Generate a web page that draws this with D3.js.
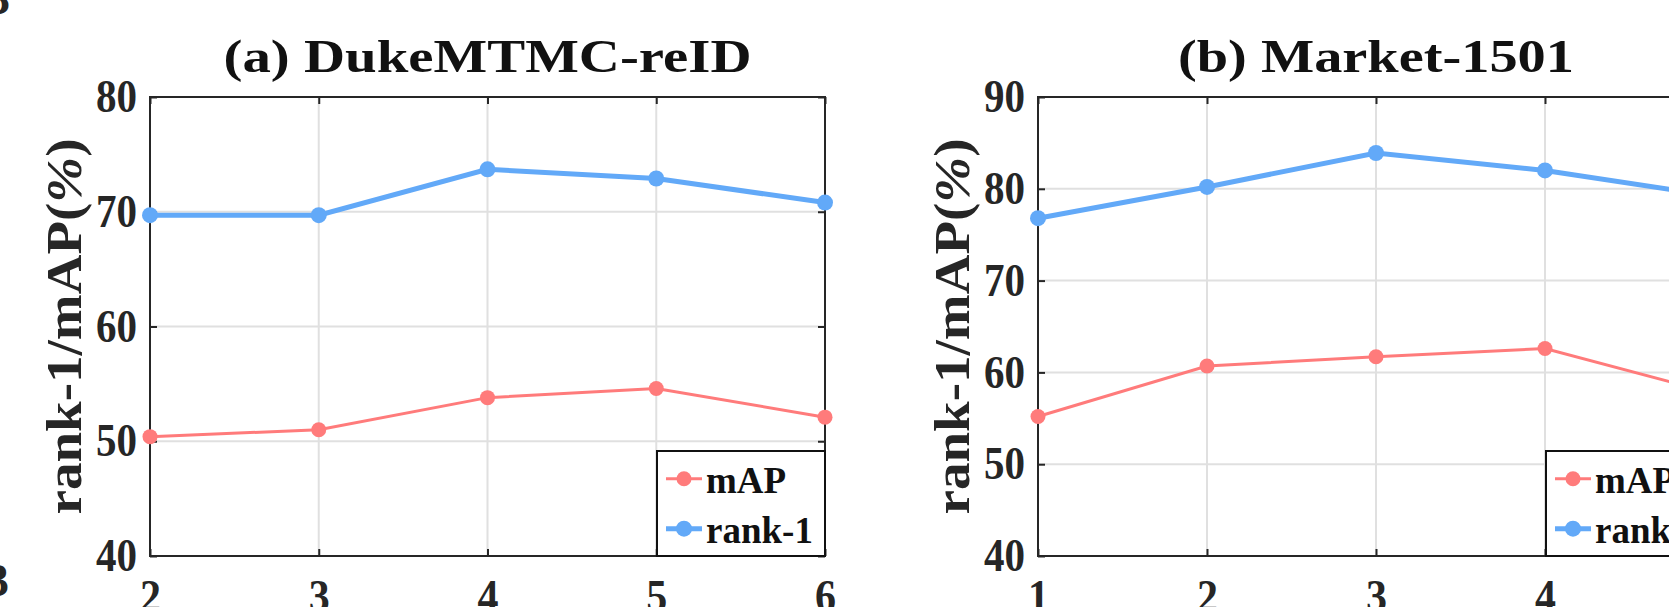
<!DOCTYPE html>
<html>
<head>
<meta charset="utf-8">
<script src="https://cdn.jsdelivr.net/npm/d3@7"></script>
<style>
body { margin: 0; background: #fff; }
svg { display: block; background: #fff; }
text { font-family: "Liberation Serif", "Times New Roman", serif; font-weight: bold; fill: #262626; }
</style>
</head>
<body>
<svg id="chart" width="1669" height="607"></svg>
<script>
// (a) DukeMTMC-reID
var depthsA = [2, 3, 4, 5, 6];
var rank1A = [69.7, 69.7, 73.7, 72.9, 70.8];
var mapA = [50.4, 51.0, 53.8, 54.6, 52.1];
var yTicksA = [40, 50, 60, 70, 80];

// (b) Market-1501
var depthsB = [1, 2, 3, 4, 5];
var rank1B = [76.8, 80.2, 83.9, 82.0, 79.2];
var mapB = [55.2, 60.7, 61.7, 62.6, 57.7];
var yTicksB = [40, 50, 60, 70, 80, 90];

var seriesNames = ["mAP", "rank-1"];
var yLabel = "rank-1/mAP(";

var colMap = "#ff7b7b";
var colRank = "#62a9f8";
var axisCol = "#262626";

var svg = d3.select("#chart");

// stray glyphs cut from neighbouring figures
svg.append("text").attr("x", -13).attr("y", 14).style("font-size", "46px").text("3");
svg.append("text").attr("x", -14).attr("y", 596).style("font-size", "46px").text("3");

function drawPanel(opt) {
	var w = opt.w, h = 459;
	var g = svg.append("g").attr("transform", "translate(" + opt.left + ",97)");

	var x = d3.scaleLinear().domain(opt.xDomain).range([0, w]);
	var y = d3.scaleLinear().domain(opt.yDomain).range([h, 0]);

	// grid
	g.selectAll(".vgrid").data(opt.depths).enter().append("line")
		.attr("x1", d => x(d)).attr("x2", d => x(d))
		.attr("y1", 0).attr("y2", h)
		.style("stroke", "#e0e0e0").style("stroke-width", 2);
	g.selectAll(".hgrid").data(opt.yTicks).enter().append("line")
		.attr("x1", 0).attr("x2", w)
		.attr("y1", d => y(d)).attr("y2", d => y(d))
		.style("stroke", "#e0e0e0").style("stroke-width", 2);

	// axes, ticks pointing inward
	var left = g.append("g").call(d3.axisLeft(y).tickValues(opt.yTicks).tickSize(-7).tickPadding(13));
	left.selectAll("text").style("font-size", "46px").attr("textLength", 41).attr("lengthAdjust", "spacingAndGlyphs").attr("fill", axisCol);
	var bottom = g.append("g").attr("transform", "translate(0," + h + ")")
		.call(d3.axisBottom(x).tickValues(opt.depths).tickFormat(d3.format("d")).tickSize(-7).tickPadding(23));
	bottom.selectAll("text").style("font-size", "46px").attr("textLength", 21).attr("lengthAdjust", "spacingAndGlyphs").attr("fill", axisCol);
	g.append("g").call(d3.axisTop(x).tickValues(opt.depths).tickFormat("").tickSize(-7));
	g.append("g").attr("transform", "translate(" + w + ",0)")
		.call(d3.axisRight(y).tickValues(opt.yTicks).tickFormat("").tickSize(-7));
	g.selectAll(".domain").remove();
	g.selectAll(".tick line").style("stroke", axisCol).style("stroke-width", 2);
	g.append("rect").attr("width", w).attr("height", h)
		.style("fill", "none").style("stroke", axisCol).style("stroke-width", 2);

	// data
	var line = d3.line().x(d => x(d[0])).y(d => y(d[1]));
	var sets = [
		{vals: opt.map, col: colMap, sw: 3, r: 7.5},
		{vals: opt.rank1, col: colRank, sw: 5, r: 8}
	];
	sets.forEach(function(s) {
		var pts = d3.zip(opt.depths, s.vals);
		g.append("path").datum(pts).attr("d", line)
			.style("fill", "none").style("stroke", s.col).style("stroke-width", s.sw);
		g.selectAll(null).data(pts).enter().append("circle")
			.attr("cx", d => x(d[0])).attr("cy", d => y(d[1])).attr("r", s.r)
			.style("fill", s.col);
	});

	// title
	g.append("text").attr("x", w / 2).attr("y", -25)
		.attr("text-anchor", "middle").style("font-size", "46px").style("fill", "#111")
		.attr("textLength", opt.titleLen).attr("lengthAdjust", "spacingAndGlyphs")
		.text(opt.title);

	// y label
	var yl = svg.append("text")
		.attr("transform", "translate(" + (opt.left - 69) + "," + (97 + h / 2) + ") rotate(-90)")
		.attr("text-anchor", "middle").style("font-size", "51px")
		.attr("textLength", 376).attr("lengthAdjust", "spacingAndGlyphs");
	yl.append("tspan").text(yLabel);
	yl.append("tspan").style("font-style", "italic").text("%");
	yl.append("tspan").text(")");

	// legend
	var lg = g.append("g").attr("transform", "translate(" + (w - 168) + "," + (h - 105) + ")");
	lg.append("rect").attr("width", 168).attr("height", 105)
		.style("fill", "#fff").style("stroke", "#111").style("stroke-width", 2);
	sets.forEach(function(s, i) {
		var ry = 27.7 + i * 50;
		lg.append("line").attr("x1", 9).attr("x2", 45).attr("y1", ry).attr("y2", ry)
			.style("stroke", s.col).style("stroke-width", s.sw);
		lg.append("circle").attr("cx", 27).attr("cy", ry).attr("r", s.r).style("fill", s.col);
		lg.append("text").attr("x", 49).attr("y", ry + 14.5)
			.style("font-size", "37px").style("fill", "#111").text(seriesNames[i]);
	});
}

drawPanel({left: 150, w: 675, xDomain: [2, 6], yDomain: [40, 80], depths: depthsA, yTicks: yTicksA,
	rank1: rank1A, map: mapA, title: "(a) DukeMTMC-reID", titleLen: 528});
drawPanel({left: 1038, w: 676, xDomain: [1, 5], yDomain: [40, 90], depths: depthsB, yTicks: yTicksB,
	rank1: rank1B, map: mapB, title: "(b) Market-1501", titleLen: 396});
</script>
</body>
</html>
